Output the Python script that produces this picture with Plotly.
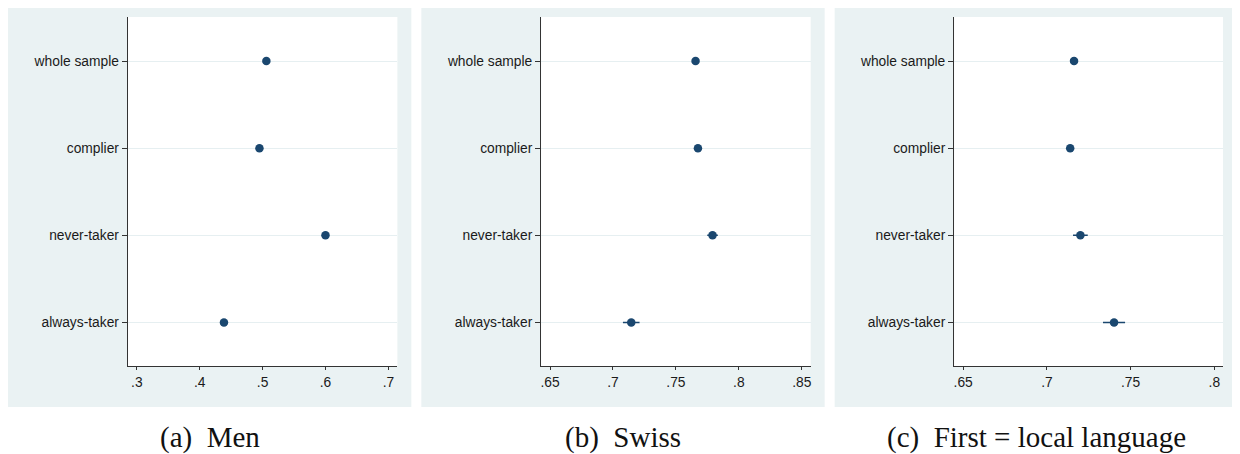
import plotly.graph_objects as go

categories = ["whole sample", "complier", "never-taker", "always-taker"]

men_values = [0.506, 0.495, 0.600, 0.4386]
men_err = [0.002, 0.002, 0.003, 0.004]

swiss_values = [0.7656, 0.7675, 0.7791, 0.7145]
swiss_err = [0.002, 0.002, 0.0042, 0.0066]

lang_values = [0.7162, 0.7139, 0.7200, 0.7401]
lang_err = [0.002, 0.002, 0.0044, 0.0066]

men_ticks = [0.3, 0.4, 0.5, 0.6, 0.7]
men_ticktext = [".3", ".4", ".5", ".6", ".7"]
swiss_ticks = [0.65, 0.7, 0.75, 0.8, 0.85]
swiss_ticktext = [".65", ".7", ".75", ".8", ".85"]
lang_ticks = [0.65, 0.7, 0.75, 0.8]
lang_ticktext = [".65", ".7", ".75", ".8"]

captions = ["(a)\u00a0\u00a0Men", "(b)\u00a0\u00a0Swiss", "(c)\u00a0\u00a0First = local language"]

# page body adds an 8px margin; lay out in reference pixels shifted by it
OFF = 8
W, H = 1240 - OFF, 454 - OFF
NAVY = "#1a476f"
BG = "#eaf2f3"
AXIS = "#333333"


def px(x):
    return (x - OFF) / W


def py(y):
    return 1 - (y - OFF) / H


panels = [
    dict(vals=men_values, err=men_err, ticks=men_ticks, tt=men_ticktext,
         rng=[0.2857, 0.7143], x0=127, x1=397, off=0),
    dict(vals=swiss_values, err=swiss_err, ticks=swiss_ticks, tt=swiss_ticktext,
         rng=[0.6429, 0.8571], x0=541, x1=811, off=414),
    dict(vals=lang_values, err=lang_err, ticks=lang_ticks, tt=lang_ticktext,
         rng=[0.6446, 0.8052], x0=954.7, x1=1224, off=828),
]

fig = go.Figure()
layout = dict(
    width=W, height=H,
    margin=dict(l=0, r=0, t=0, b=0),
    paper_bgcolor="white",
    plot_bgcolor="white",
    showlegend=False,
    font=dict(family="Liberation Sans, Arial, sans-serif", size=13.8, color="#1a1a1a"),
    shapes=[], annotations=[],
)

y_top = py(17)
y_bot = py(366)
cat_order = list(reversed(categories))

for i, p in enumerate(panels):
    n = "" if i == 0 else str(i + 1)
    fig.add_trace(go.Scatter(
        x=p["vals"], y=categories, mode="markers",
        marker=dict(color=NAVY, size=8.5),
        error_x=dict(type="data", array=p["err"], visible=True,
                     color=NAVY, thickness=1.6, width=0),
        xaxis="x" + n, yaxis="y" + n, hoverinfo="x+y",
    ))
    layout["xaxis" + n] = dict(
        domain=[px(p["x0"]), px(p["x1"])], anchor="y" + n,
        range=p["rng"], tickvals=p["ticks"], ticktext=p["tt"],
        showgrid=False, zeroline=False, showline=True, linecolor=AXIS, linewidth=1.2,
        ticks="outside", ticklen=3, tickcolor=AXIS, tickwidth=1.2,
        fixedrange=True,
    )
    layout["yaxis" + n] = dict(
        domain=[y_bot, y_top], anchor="x" + n,
        type="category", categoryorder="array", categoryarray=cat_order,
        range=[-0.5, 3.506],
        showgrid=True, gridcolor="#e6eff1", gridwidth=1.2,
        zeroline=False, showline=True, linecolor=AXIS, linewidth=1.2,
        ticks="outside", ticklen=5, tickcolor=AXIS, tickwidth=1.2,
        fixedrange=True,
    )
    layout["shapes"].append(dict(
        type="rect", xref="paper", yref="paper", layer="below",
        x0=px(p["off"] + 7), x1=px(p["off"] + 411),
        y0=py(407), y1=py(3),
        fillcolor=BG, line=dict(width=0),
    ))
    layout["shapes"].append(dict(
        type="rect", xref="paper", yref="paper", layer="below",
        x0=px(p["x0"]), x1=px(p["x1"]),
        y0=y_bot, y1=y_top,
        fillcolor="white", line=dict(width=0),
    ))
    layout["annotations"].append(dict(
        text=captions[i], xref="paper", yref="paper",
        x=px(p["off"] + 209), y=py(437), xanchor="center", yanchor="middle",
        showarrow=False,
        font=dict(family="Liberation Serif, Times New Roman, serif", size=29, color="#111111"),
    ))

fig.update_layout(**layout)
fig.write_html("out.html")
